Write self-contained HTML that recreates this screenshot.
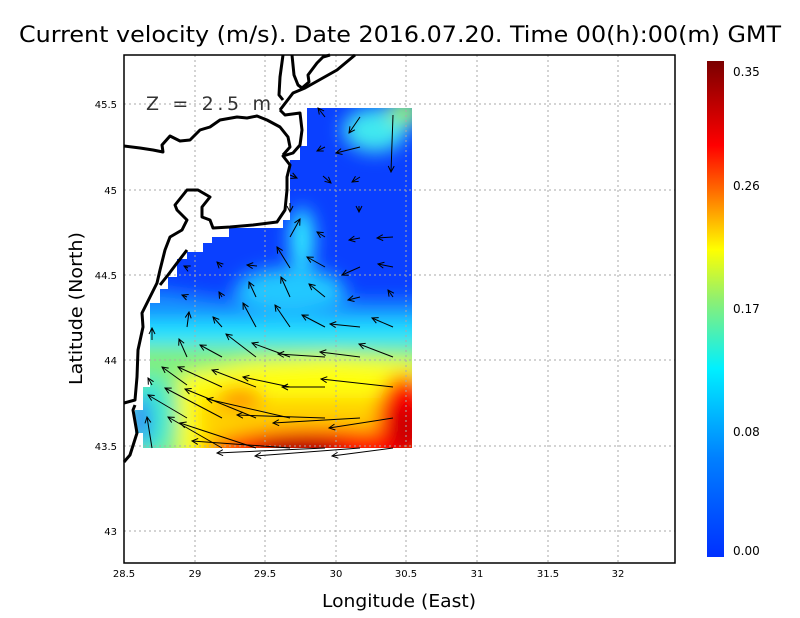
<!DOCTYPE html>
<html><head><meta charset="utf-8"><style>
body{margin:0;background:#fff;width:800px;height:618px;overflow:hidden}
svg{display:block;font-family:"DejaVu Sans","Liberation Sans",sans-serif}
</style></head><body>
<svg width="800" height="618" viewBox="0 0 800 618" xmlns="http://www.w3.org/2000/svg">
<defs>
<clipPath id="dc"><polygon points="307,108 412,108 412,448 143,448 143,433 135,433 135,410 143,410 143,387 150,387 150,303 160,303 160,289 168,289 168,277 177,277 177,259 187,259 187,252 203,252 203,243 212,243 212,237 229,237 229,228 283,228 283,220 290,220 290,160 300,160 300,146 307,146"/></clipPath>
<filter id="bl" x="-50%" y="-50%" width="200%" height="200%"><feGaussianBlur stdDeviation="9"/></filter>
<linearGradient id="cb" x1="0" y1="0" x2="0" y2="1">
<stop offset="0" stop-color="#7a0000"/><stop offset="0.1" stop-color="#c80000"/><stop offset="0.17" stop-color="#ff0000"/><stop offset="0.26" stop-color="#ff6a00"/><stop offset="0.38" stop-color="#ffff00"/><stop offset="0.48" stop-color="#90f070"/><stop offset="0.62" stop-color="#00f0ff"/><stop offset="0.8" stop-color="#0080ff"/><stop offset="1" stop-color="#0030ff"/>
</linearGradient>
<marker id="ah" markerWidth="8" markerHeight="8" refX="7" refY="4" orient="auto" markerUnits="userSpaceOnUse"><path d="M1,1 L7,4 L1,7" fill="none" stroke="#000" stroke-width="1"/></marker>
</defs>
<g clip-path="url(#dc)">
<rect x="120" y="100" width="300" height="360" fill="#0a40ff"/>
<g filter="url(#bl)">
<polygon points="100,300 160,290 230,300 300,290 360,300 430,300 430,470 100,470" fill="#1890ff"/>
<rect x="100" y="320" width="330" height="150" fill="#20e0ff"/>
<ellipse cx="302" cy="240" rx="12" ry="32" fill="#30f0ff"/>
<ellipse cx="290" cy="290" rx="55" ry="22" fill="#20c8ff"/>
<ellipse cx="375" cy="130" rx="32" ry="22" fill="#40e8f0"/>
<ellipse cx="405" cy="112" rx="18" ry="14" fill="#90f080"/>
<rect x="100" y="345" width="330" height="125" fill="#80f080"/>
<polygon points="180,375 250,362 330,358 420,362 430,470 180,470" fill="#ffff10"/>
<rect x="200" y="398" width="230" height="72" fill="#ffd000"/>
<ellipse cx="240" cy="398" rx="22" ry="11" fill="#ff9000"/>
<ellipse cx="320" cy="452" rx="110" ry="24" fill="#ff1000"/>
<ellipse cx="405" cy="420" rx="28" ry="45" fill="#ff0000"/>
<ellipse cx="300" cy="452" rx="45" ry="12" fill="#a00000"/>
<ellipse cx="405" cy="430" rx="12" ry="25" fill="#c00000"/>
<ellipse cx="150" cy="415" rx="22" ry="40" fill="#40e8d0"/>
<ellipse cx="140" cy="420" rx="10" ry="25" fill="#2080ff"/>
</g>
</g>
<g stroke="#aaa" stroke-width="1" stroke-dasharray="2,3">
<line x1="195" y1="55" x2="195" y2="563"/><line x1="265" y1="55" x2="265" y2="563"/><line x1="336" y1="55" x2="336" y2="563"/><line x1="406" y1="55" x2="406" y2="563"/><line x1="477" y1="55" x2="477" y2="563"/><line x1="548" y1="55" x2="548" y2="563"/><line x1="618" y1="55" x2="618" y2="563"/>
<line x1="124" y1="104" x2="675" y2="104"/><line x1="124" y1="190" x2="675" y2="190"/><line x1="124" y1="275" x2="675" y2="275"/><line x1="124" y1="360" x2="675" y2="360"/><line x1="124" y1="446" x2="675" y2="446"/><line x1="124" y1="531" x2="675" y2="531"/>
</g>
<g fill="none" stroke="#000" stroke-width="3" stroke-linejoin="round">
<polyline points="124,146 140,148 153,150 163,152 162,145 170,136 180,141 190,140 200,130 210,127 220,120 237,117 247,118 257,116 267,120 280,127 288,137 290,147 283,155"/>
<polyline points="280,110 285,115 300,113 302,130 300,145 293,153 283,156 290,165 287,177 287,190 285,210 277,222 253,225 230,227 213,228 210,220 202,217 202,207 210,197 198,190 187,190 175,205 177,210 187,220 182,230 170,237 165,250 160,270 157,283 147,303 142,313 143,327 138,350 137,377 135,400 124,403"/>
<polyline points="187,250 177,263 168,275 160,285"/>
<polyline points="135,405 133,410 137,433 130,455 124,462"/>
<polyline points="283,55 280,77 279,95 283,100"/>
<polyline points="280,110 293,93 305,88 337,70 355,55"/>
<polyline points="292,55 294,75 298,85 302,88 309,82 308,75 317,63 323,57 330,55"/>
</g>
<g stroke="#000" stroke-width="1" marker-end="url(#ah)">
<line x1="325" y1="117" x2="318" y2="108"/><line x1="360" y1="117" x2="349" y2="133"/><line x1="393" y1="115" x2="391" y2="172"/><line x1="360" y1="147" x2="336" y2="153"/><line x1="325" y1="147" x2="317" y2="151"/>
<line x1="290" y1="175" x2="297" y2="178"/><line x1="323" y1="176" x2="331" y2="183"/><line x1="360" y1="177" x2="352" y2="182"/><line x1="290" y1="203" x2="290" y2="212"/><line x1="359" y1="206" x2="359" y2="212"/>
<line x1="290" y1="237" x2="300" y2="219"/><line x1="325" y1="237" x2="317" y2="232"/><line x1="360" y1="238" x2="349" y2="240"/><line x1="393" y1="237" x2="377" y2="238"/>
<line x1="290" y1="268" x2="277" y2="247"/><line x1="325" y1="267" x2="307" y2="257"/><line x1="360" y1="267" x2="342" y2="275"/><line x1="393" y1="267" x2="378" y2="264"/><line x1="257" y1="266" x2="247" y2="265"/><line x1="222" y1="267" x2="217" y2="262"/><line x1="188" y1="268" x2="184" y2="266"/>
<line x1="290" y1="297" x2="281" y2="277"/><line x1="325" y1="297" x2="309" y2="284"/><line x1="360" y1="297" x2="348" y2="300"/><line x1="393" y1="297" x2="388" y2="290"/><line x1="256" y1="297" x2="249" y2="282"/><line x1="222" y1="297" x2="219" y2="292"/><line x1="187" y1="297" x2="182" y2="295"/>
<line x1="290" y1="327" x2="275" y2="305"/><line x1="325" y1="327" x2="302" y2="315"/><line x1="360" y1="327" x2="330" y2="324"/><line x1="393" y1="327" x2="372" y2="318"/><line x1="256" y1="327" x2="243" y2="303"/><line x1="222" y1="327" x2="213" y2="317"/><line x1="187" y1="327" x2="189" y2="312"/><line x1="152" y1="340" x2="152" y2="328"/>
<line x1="360" y1="357" x2="320" y2="352"/><line x1="325" y1="357" x2="278" y2="354"/><line x1="290" y1="357" x2="252" y2="343"/><line x1="256" y1="357" x2="226" y2="334"/><line x1="222" y1="357" x2="200" y2="345"/><line x1="187" y1="357" x2="179" y2="339"/><line x1="393" y1="357" x2="359" y2="344"/>
<line x1="393" y1="387" x2="321" y2="379"/><line x1="325" y1="387" x2="282" y2="387"/><line x1="290" y1="387" x2="243" y2="377"/><line x1="256" y1="387" x2="212" y2="370"/><line x1="222" y1="387" x2="178" y2="367"/><line x1="187" y1="385" x2="162" y2="367"/><line x1="152" y1="385" x2="148" y2="378"/>
<line x1="393" y1="418" x2="329" y2="428"/><line x1="360" y1="418" x2="273" y2="423"/><line x1="325" y1="418" x2="237" y2="415"/><line x1="290" y1="418" x2="207" y2="399"/><line x1="256" y1="418" x2="185" y2="389"/><line x1="222" y1="418" x2="165" y2="388"/><line x1="187" y1="418" x2="148" y2="395"/>
<line x1="152" y1="448" x2="147" y2="417"/><line x1="393" y1="448" x2="332" y2="456"/><line x1="360" y1="448" x2="255" y2="456"/><line x1="325" y1="448" x2="217" y2="453"/><line x1="290" y1="448" x2="192" y2="441"/><line x1="256" y1="448" x2="180" y2="423"/><line x1="222" y1="448" x2="168" y2="417"/>
</g>
<rect x="124" y="55" width="551" height="508" fill="none" stroke="#000" stroke-width="1.5"/>
<text x="146" y="110" font-size="19" fill="#333" textLength="125" lengthAdjust="spacing">Z = 2.5 m</text>
<g font-size="10" fill="#000" text-anchor="middle">
<text x="124" y="577">28.5</text><text x="195" y="577">29</text><text x="265" y="577">29.5</text><text x="336" y="577">30</text><text x="406" y="577">30.5</text><text x="477" y="577">31</text><text x="548" y="577">31.5</text><text x="618" y="577">32</text>
</g>
<g font-size="10" fill="#000" text-anchor="end">
<text x="117" y="108">45.5</text><text x="117" y="194">45</text><text x="117" y="279">44.5</text><text x="117" y="364">44</text><text x="117" y="450">43.5</text><text x="117" y="535">43</text>
</g>
<text x="19" y="42" font-size="22" fill="#000" textLength="762" lengthAdjust="spacingAndGlyphs">Current velocity (m/s). Date 2016.07.20. Time 00(h):00(m) GMT</text>
<text x="322" y="607" font-size="18" fill="#000" textLength="154" lengthAdjust="spacingAndGlyphs">Longitude (East)</text>
<text transform="translate(82,385) rotate(-90)" font-size="18" fill="#000" textLength="153" lengthAdjust="spacingAndGlyphs">Latitude (North)</text>
<rect x="707" y="61" width="17" height="496" fill="url(#cb)"/>
<g font-size="12" fill="#000">
<text x="733" y="76">0.35</text><text x="733" y="190">0.26</text><text x="733" y="313">0.17</text><text x="733" y="436">0.08</text><text x="733" y="555">0.00</text>
</g>
</svg>
</body></html>
